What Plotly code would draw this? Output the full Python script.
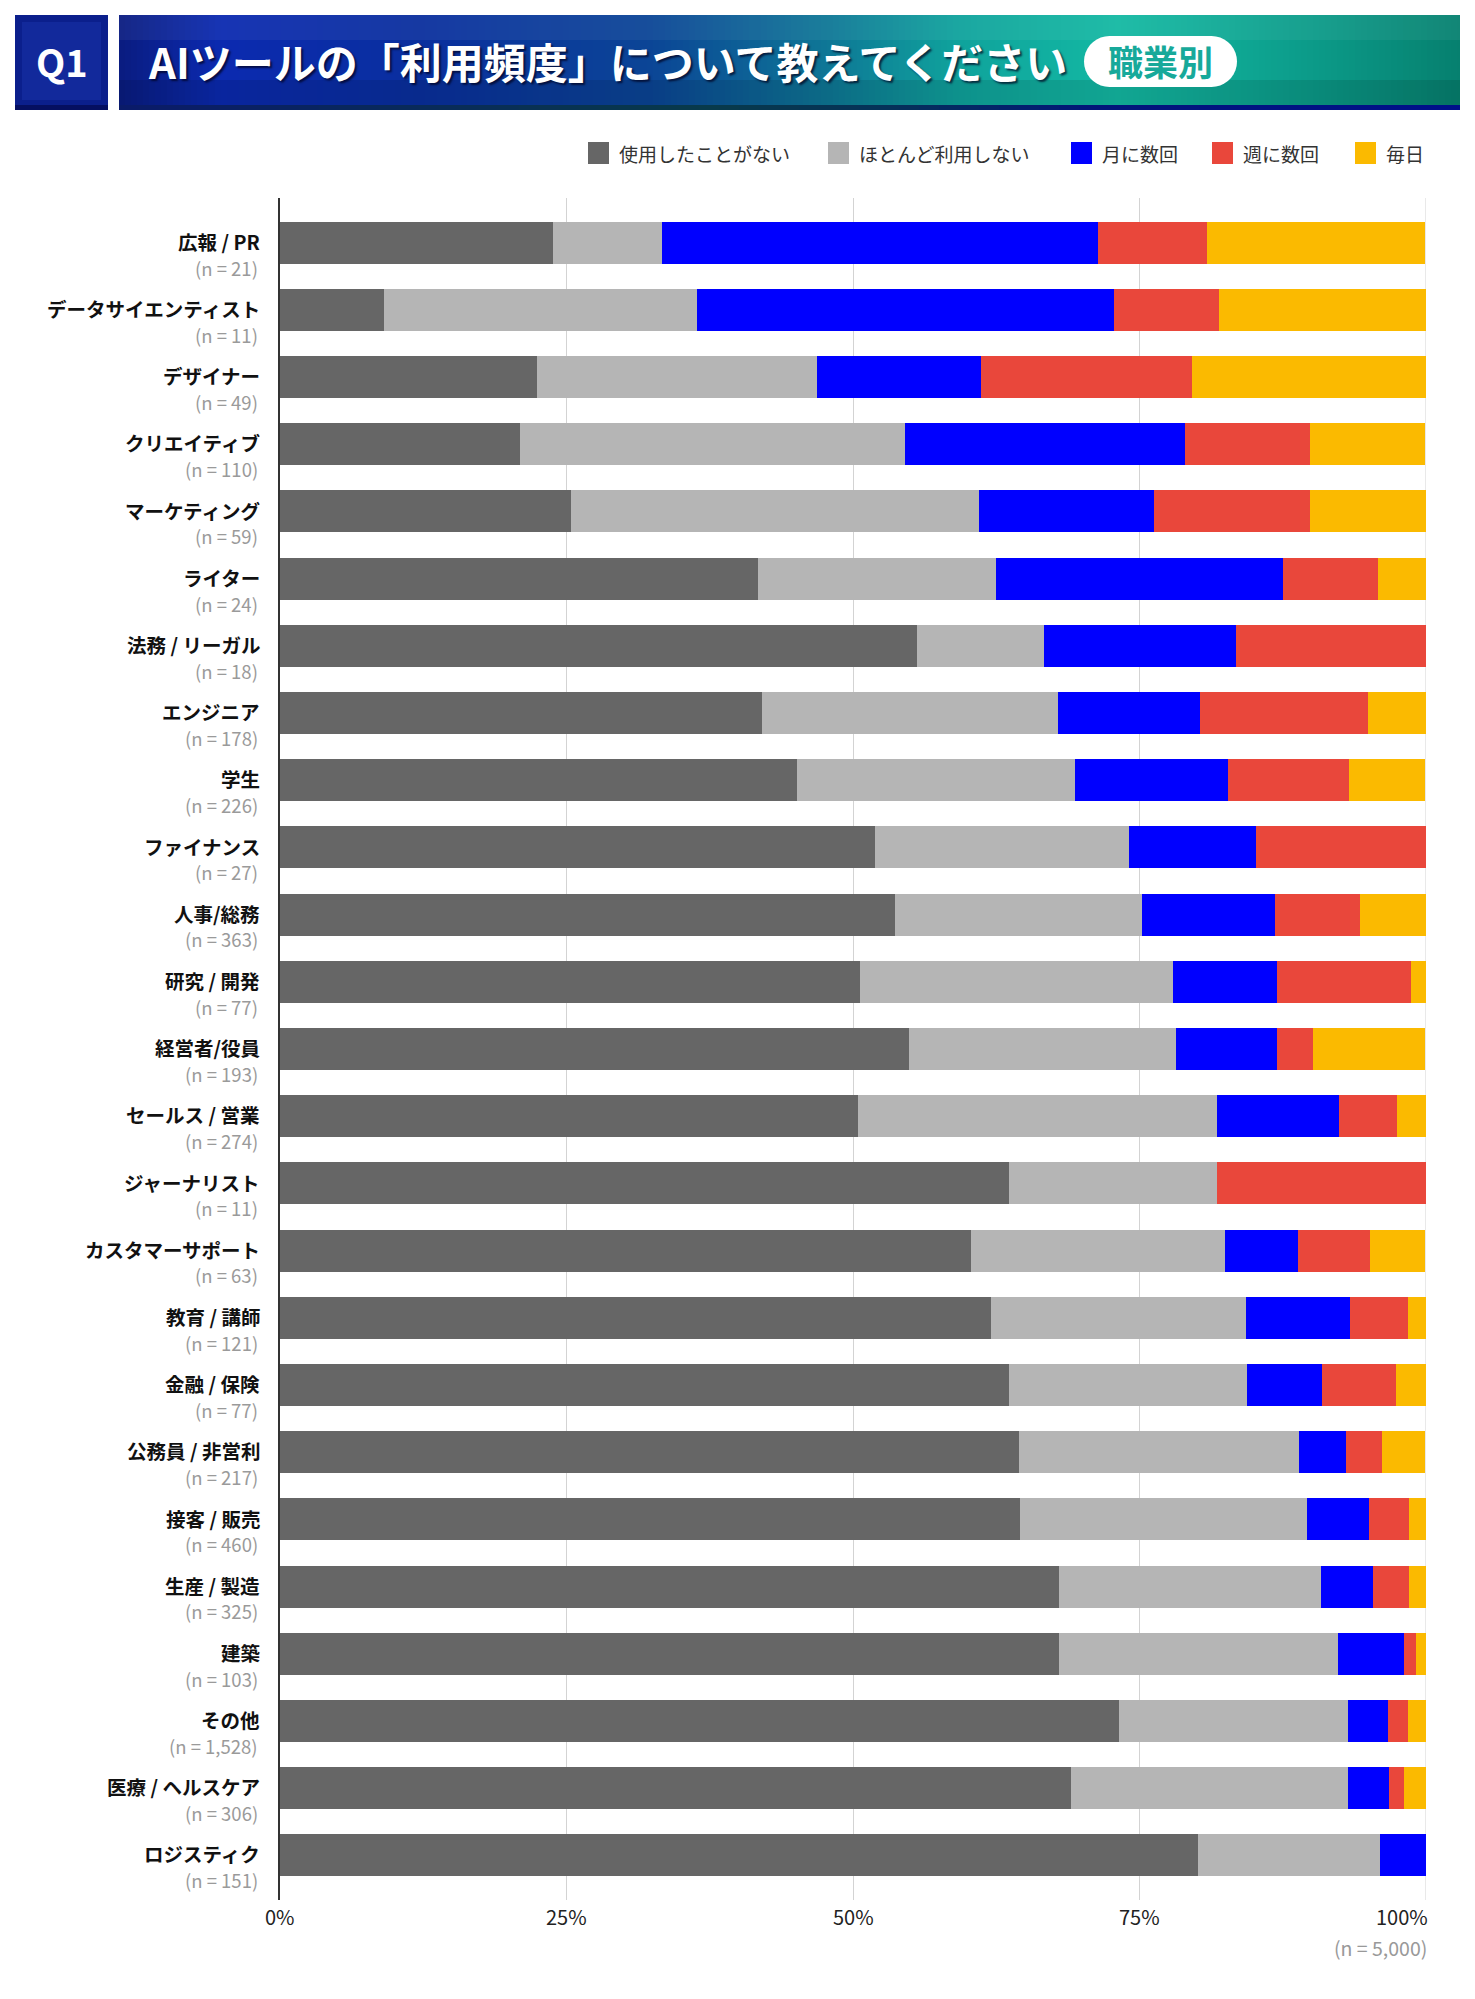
import math
import plotly.graph_objects as go

# ---------------- data ----------------
categories = ["広報 / PR", "データサイエンティスト", "デザイナー", "クリエイティブ", "マーケティング",
              "ライター", "法務 / リーガル", "エンジニア", "学生", "ファイナンス", "人事/総務",
              "研究 / 開発", "経営者/役員", "セールス / 営業", "ジャーナリスト", "カスタマーサポート",
              "教育 / 講師", "金融 / 保険", "公務員 / 非営利", "接客 / 販売", "生産 / 製造", "建築",
              "その他", "医療 / ヘルスケア", "ロジスティク"]
n_labels = ["21", "11", "49", "110", "59", "24", "18", "178", "226", "27", "363", "77", "193",
            "274", "11", "63", "121", "77", "217", "460", "325", "103", "1,528", "306", "151"]

series_names = ["使用したことがない", "ほとんど利用しない", "月に数回", "週に数回", "毎日"]
never   = [23.8, 9.1, 22.4, 20.9, 25.4, 41.7, 55.6, 42.1, 45.1, 51.9, 53.7, 50.6, 54.9,
           50.4, 63.6, 60.3, 62.0, 63.6, 64.5, 64.6, 68.0, 68.0, 73.2, 69.0, 80.1]
rarely  = [9.5, 27.3, 24.5, 33.6, 35.6, 20.8, 11.1, 25.8, 24.3, 22.2, 21.5, 27.3, 23.3,
           31.4, 18.2, 22.2, 22.3, 20.8, 24.4, 25.0, 22.8, 24.3, 20.0, 24.2, 15.9]
monthly = [38.1, 36.4, 14.3, 24.5, 15.3, 25.0, 16.7, 12.4, 13.3, 11.1, 11.6, 9.1, 8.8,
           10.6, 0.0, 6.3, 9.1, 6.5, 4.1, 5.4, 4.6, 5.8, 3.5, 3.6, 4.0]
weekly  = [9.5, 9.1, 18.4, 10.9, 13.6, 8.3, 16.7, 14.6, 10.6, 14.8, 7.4, 11.7, 3.1,
           5.1, 18.2, 6.3, 5.0, 6.5, 3.2, 3.5, 3.1, 1.0, 1.7, 1.3, 0.0]
daily   = [19.0, 18.2, 20.4, 10.0, 10.2, 4.2, 0.0, 5.1, 6.6, 0.0, 5.8, 1.3, 9.8,
           2.6, 0.0, 4.8, 1.7, 2.6, 3.7, 1.5, 1.5, 1.0, 1.6, 2.0, 0.0]

x_tickvals = [0, 25, 50, 75, 100]
x_ticktext = ["0%", "25%", "50%", "75%", "100%"]
total_n_text = "(n = 5,000)"
title_text = "AIツールの「利用頻度」について教えてください"
q_text = "Q1"
pill_text = "職業別"

colors = ["#666666", "#b5b5b5", "#0000ff", "#e9473b", "#fbba00"]
FONT = "Noto Sans CJK JP, Noto Sans, sans-serif"

# ---------------- geometry helpers (reference page pixel coords) ----------------
OFF = 8                       # default body margin of the html page
W, H = 1475 - 2 * OFF, 1999 - 2 * OFF
L, R, T, B = 280, 1426, 198, 1900


def px(x):
    return (x - L) / (R - L)


def py(y):
    return (B - y) / (B - T)


def hex2rgb(h):
    h = h.lstrip("#")
    return tuple(int(h[i:i + 2], 16) for i in (0, 2, 4))


def interp(stops, x):
    for (x0, c0), (x1, c1) in zip(stops[:-1], stops[1:]):
        if x0 <= x <= x1:
            t = (x - x0) / (x1 - x0) if x1 > x0 else 0
            a, b = hex2rgb(c0), hex2rgb(c1)
            r = [round(a[i] + (b[i] - a[i]) * t) for i in range(3)]
            return "rgb(%d,%d,%d)" % tuple(r)
    return stops[-1][1]


fig = go.Figure()
series = [never, rarely, monthly, weekly, daily]
for name, vals, col in zip(series_names, series, colors):
    fig.add_trace(go.Bar(
        y=categories, x=vals, orientation="h", name=name,
        marker=dict(color=col, line=dict(width=0)), showlegend=False,
    ))

shapes = []
annotations = []

# right-edge (100%) gridline
shapes.append(dict(type="line", xref="x", yref="paper", x0=x_tickvals[-1], x1=x_tickvals[-1],
                   y0=0, y1=1, line=dict(color="#d3d3d3", width=1), layer="below"))

# ---------------- header banner ----------------
ban_x0, ban_x1, ban_y0, ban_y1 = 119, 1460, 15, 110
stops = [(119, "#0a1c80"), (220, "#0b2ab0"), (420, "#0a2f9e"), (650, "#0b4596"),
         (820, "#0e7596"), (960, "#0fa39c"), (1120, "#13b9a3"), (1300, "#0c9d8b"),
         (1460, "#06806f")]
step = 6
x = ban_x0
while x < ban_x1:
    x2 = min(x + step, ban_x1)
    shapes.append(dict(type="rect", xref="paper", yref="paper",
                       x0=px(x), x1=px(min(x2 + 1, ban_x1)), y0=py(ban_y1), y1=py(ban_y0),
                       fillcolor=interp(stops, (x + x2) / 2), line=dict(width=0), layer="above"))
    x = x2
shapes.append(dict(type="rect", xref="paper", yref="paper", x0=px(ban_x0), x1=px(ban_x1),
                   y0=py(40), y1=py(ban_y0), fillcolor="rgba(255,255,255,0.05)",
                   line=dict(width=0), layer="above"))
shapes.append(dict(type="rect", xref="paper", yref="paper", x0=px(ban_x0), x1=px(ban_x1),
                   y0=py(ban_y1), y1=py(80), fillcolor="rgba(0,0,0,0.10)",
                   line=dict(width=0), layer="above"))
line_stops = [(119, "#0a1a6a"), (700, "#083a4a"), (900, "#05305a"), (1100, "#02157a"),
              (1460, "#00108a")]
x = ban_x0
while x < ban_x1:
    x2 = min(x + 20, ban_x1)
    shapes.append(dict(type="rect", xref="paper", yref="paper",
                       x0=px(x), x1=px(min(x2 + 1, ban_x1)), y0=py(ban_y1), y1=py(ban_y1 - 5),
                       fillcolor=interp(line_stops, (x + x2) / 2), line=dict(width=0), layer="above"))
    x = x2

# Q1 box
shapes.append(dict(type="rect", xref="paper", yref="paper", x0=px(15), x1=px(108),
                   y0=py(110), y1=py(15), fillcolor="#0b1f8c", line=dict(width=0), layer="above"))
shapes.append(dict(type="rect", xref="paper", yref="paper", x0=px(22), x1=px(101),
                   y0=py(100), y1=py(22), fillcolor="rgba(40,70,200,0.25)", line=dict(width=0),
                   layer="above"))
shapes.append(dict(type="rect", xref="paper", yref="paper", x0=px(15), x1=px(108),
                   y0=py(110), y1=py(105), fillcolor="#050f60", line=dict(width=0), layer="above"))

# pill (rounded rectangle)
p_x0, p_x1, p_y0, p_y1 = 1084, 1237, 36, 87
rad = (p_y1 - p_y0) / 2
pts = []
cx_r, cx_l, cy = p_x1 - rad, p_x0 + rad, (p_y0 + p_y1) / 2
for k in range(0, 19):
    a = -math.pi / 2 + math.pi * k / 18
    pts.append((cx_r + rad * math.cos(a), cy + rad * math.sin(a)))
for k in range(0, 19):
    a = math.pi / 2 + math.pi * k / 18
    pts.append((cx_l + rad * math.cos(a), cy + rad * math.sin(a)))
path = "M " + " L ".join("%.5f,%.5f" % (px(a), py(b)) for a, b in pts) + " Z"
shapes.append(dict(type="path", xref="paper", yref="paper", path=path,
                   fillcolor="#ffffff", line=dict(width=0), layer="above"))

# header texts
annotations.append(dict(xref="paper", yref="paper", x=px(62), y=py(61), text="<b>%s</b>" % q_text,
                        showarrow=False, xanchor="center", yanchor="middle",
                        font=dict(family=FONT, size=38, color="#ffffff")))
annotations.append(dict(xref="paper", yref="paper", x=px(146), y=py(61), text="<b>%s</b>" % title_text,
                        showarrow=False, xanchor="left", yanchor="middle",
                        font=dict(family=FONT, size=42, color="#ffffff",
                                  shadow="2px 2px 2px rgba(0,0,30,0.7)")))
annotations.append(dict(xref="paper", yref="paper", x=px((p_x0 + p_x1) / 2), y=py(61),
                        text="<b>%s</b>" % pill_text, showarrow=False, xanchor="center",
                        yanchor="middle", font=dict(family=FONT, size=35, color="#17a99a")))

# ---------------- legend ----------------
leg_sq_x = [588, 828, 1071, 1212, 1355]
leg_y = 153
for name, col, sx in zip(series_names, colors, leg_sq_x):
    shapes.append(dict(type="rect", xref="paper", yref="paper", x0=px(sx), x1=px(sx + 21),
                       y0=py(leg_y + 11), y1=py(leg_y - 11), fillcolor=col, line=dict(width=0)))
    annotations.append(dict(xref="paper", yref="paper", x=px(sx + 29), y=py(leg_y),
                            text=name, showarrow=False, xanchor="left", yanchor="middle",
                            font=dict(family=FONT, size=19, color="#333333")))

# ---------------- category labels ----------------
for i, (cat, n) in enumerate(zip(categories, n_labels)):
    annotations.append(dict(xref="paper", yref="y", x=px(262), y=i - 0.02,
                            text="<b>%s</b>" % cat, showarrow=False, xanchor="right",
                            yanchor="middle", font=dict(family=FONT, size=19.5, color="#111111")))
    annotations.append(dict(xref="paper", yref="y", x=px(260), y=i + 0.37,
                            text="(n = %s)" % n, showarrow=False, xanchor="right",
                            yanchor="middle", font=dict(family=FONT, size=18.5, color="#9a9a9a")))

# ---------------- x tick labels ----------------
for v, t in zip(x_tickvals, x_ticktext):
    last = v == x_tickvals[-1]
    annotations.append(dict(xref="x", yref="paper", x=v, y=py(1917), text=t,
                            showarrow=False, xanchor="right" if last else "center",
                            xshift=4 if last else 0, yanchor="middle",
                            font=dict(family=FONT, size=20, color="#222222")))

annotations.append(dict(xref="paper", yref="paper", x=px(1429), y=py(1947), text=total_n_text,
                        showarrow=False, xanchor="right", yanchor="middle",
                        font=dict(family=FONT, size=19.5, color="#999999")))

pad = 0.665
fig.update_layout(
    width=W, height=H,
    margin=dict(l=L - OFF, r=W - (R - OFF), t=T - OFF, b=H - (B - OFF), pad=0),
    paper_bgcolor="#ffffff", plot_bgcolor="#ffffff",
    barmode="stack", bargap=0.374,
    font=dict(family=FONT),
    xaxis=dict(range=[0, 100], tickvals=x_tickvals, showticklabels=False, showgrid=True,
               gridcolor="#d3d3d3", gridwidth=1, zeroline=False, showline=False, ticks="",
               fixedrange=True),
    yaxis=dict(categoryorder="array", categoryarray=categories,
               range=[len(categories) - 1 + pad, -pad], showticklabels=False, ticks="",
               showgrid=False, zeroline=False, showline=True, linecolor="#333333",
               linewidth=2, fixedrange=True),
    shapes=shapes,
    annotations=annotations,
)

fig.write_html("out.html")
